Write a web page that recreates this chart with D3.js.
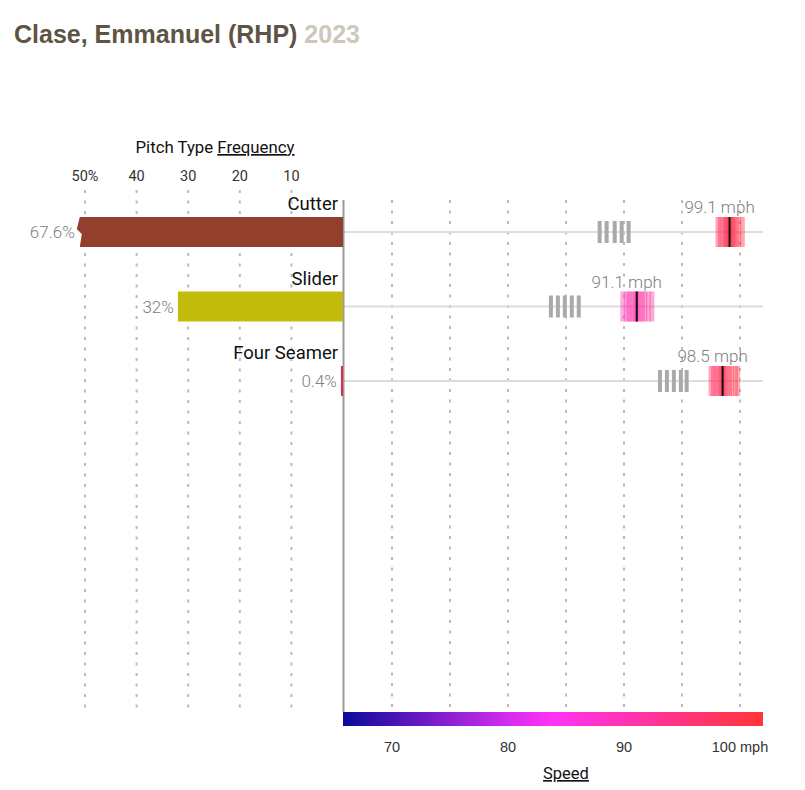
<!DOCTYPE html>
<html>
<head>
<meta charset="utf-8">
<script src="https://cdn.jsdelivr.net/npm/d3@7"></script>
<style>
  body { margin: 0; background: #fff; }
  svg { display: block; }
</style>
</head>
<body>
<svg id="chart"></svg>
<script>
// data
const pitchTypes = ["Cutter", "Slider", "Four Seamer"];
const frequency = [67.6, 32, 0.4];
const meanSpeed = [99.1, 91.1, 98.5];
const barColors = ["#933f2e", "#c2bd0c", "#d7304b"];
// the little gray marks left of each speed band (mph)
const grayMarks = [
  [87.9, 88.5, 89.2, 89.8, 90.4],
  [83.7, 84.3, 84.9, 85.5, 86.1],
  [93.1, 93.7, 94.3, 94.9, 95.4]
];
// pitch speeds that make up the pink band (mph)
const pitchSpeeds = [
  [98.1, 98.3, 98.5, 98.7, 98.8, 98.9, 99.0, 99.1, 99.2, 99.3, 99.4, 99.5, 99.7, 99.9, 100.2],
  [89.9, 90.2, 90.4, 90.6, 90.8, 91.0, 91.1, 91.2, 91.4, 91.6, 91.8, 92.1, 92.4],
  [97.5, 97.7, 97.9, 98.1, 98.3, 98.4, 98.5, 98.6, 98.7, 98.9, 99.1, 99.3, 99.6, 99.8]
];
const freqTicks = [50, 40, 30, 20, 10];
const speedTicks = [70, 80, 90, 100];
const speedGrid = [70, 75, 80, 85, 90, 95, 100];
const freqMax = 51.2; // bars longer than this get cut with a break

var width = 805, height = 790;
var svg = d3.select('#chart').attr('width', width).attr('height', height);

var x0 = 343; // the middle axis
var xFreq = d3.scaleLinear().domain([0, 50]).range([x0, 85]);
var xSpeed = d3.scaleLinear().domain([70, 100]).range([392, 740]);
var y = d3.scalePoint().domain(pitchTypes).range([232, 381]);
var barH = 30;

var color = d3.scaleLinear()
  .domain([65.8, 83, 102])
  .range(["#0a0a9a", "#ff33ff", "#ff3535"]);

// title
var title = svg.append('text')
  .attr('x', 14).attr('y', 43)
  .attr('font-family', 'Liberation Sans, Arial, sans-serif')
  .attr('font-size', 25)
  .attr('font-weight', 'bold');
title.append('tspan').attr('fill', '#5e5444').text('Clase, Emmanuel (RHP) ');
title.append('tspan').attr('fill', '#cec7bb').text('2023');

// left dotted grid
svg.append('g').selectAll('line')
  .data(freqTicks)
  .join('line')
  .attr('x1', d => xFreq(d)).attr('x2', d => xFreq(d))
  .attr('y1', 190).attr('y2', 708)
  .attr('stroke', '#bbb').attr('stroke-width', 2)
  .attr('stroke-dasharray', '3,7.5');

// right dotted grid
svg.append('g').selectAll('line')
  .data(speedGrid)
  .join('line')
  .attr('x1', d => xSpeed(d)).attr('x2', d => xSpeed(d))
  .attr('y1', 200).attr('y2', 708)
  .attr('stroke', '#bbb').attr('stroke-width', 2)
  .attr('stroke-dasharray', '3,7.5');

// frequency header + tick labels
var head = svg.append('text')
  .attr('x', 215).attr('y', 153)
  .attr('text-anchor', 'middle')
  .attr('font-family', 'Roboto, sans-serif')
  .attr('font-size', 16.8)
  .attr('fill', '#111');
head.append('tspan').text('Pitch Type ');
head.append('tspan').attr('text-decoration', 'underline').text('Frequency');

svg.append('g').selectAll('text')
  .data(freqTicks)
  .join('text')
  .attr('x', d => xFreq(d)).attr('y', 181)
  .attr('text-anchor', 'middle')
  .attr('font-family', 'Roboto, sans-serif')
  .attr('font-size', 14.5)
  .attr('fill', '#333')
  .text((d, i) => i == 0 ? d + '%' : d);

// row lines on speed side
svg.append('g').selectAll('line')
  .data(pitchTypes)
  .join('line')
  .attr('x1', x0).attr('x2', 763)
  .attr('y1', d => y(d)).attr('y2', d => y(d))
  .attr('stroke', '#ddd').attr('stroke-width', 2);

// middle axis line
svg.append('line')
  .attr('x1', x0 + 0.5).attr('x2', x0 + 0.5)
  .attr('y1', 200).attr('y2', 712)
  .attr('stroke', '#999').attr('stroke-width', 2);

// frequency bars (cut bars get a zigzag left edge)
var rows = pitchTypes.map((p, i) => ({ name: p, freq: frequency[i], mean: meanSpeed[i], color: barColors[i], marks: grayMarks[i], speeds: pitchSpeeds[i] }));

svg.append('g').selectAll('path')
  .data(rows)
  .join('path')
  .attr('fill', d => d.color)
  .attr('d', d => {
    var top = y(d.name) - barH / 2, bot = y(d.name) + barH / 2, cy = y(d.name);
    if (d.freq > freqMax) {
      var xe = xFreq(freqMax);
      return 'M' + x0 + ',' + top + 'L' + (xe + 1) + ',' + top + 'L' + (xe - 2) + ',' + (cy - 3) +
        'L' + (xe + 3) + ',' + (cy + 2) + 'L' + (xe + 1) + ',' + bot + 'L' + x0 + ',' + bot + 'Z';
    }
    var xe = xFreq(d.freq);
    return 'M' + x0 + ',' + top + 'L' + xe + ',' + top + 'L' + xe + ',' + bot + 'L' + x0 + ',' + bot + 'Z';
  });

// percent labels
svg.append('g').selectAll('text')
  .data(rows)
  .join('text')
  .attr('x', d => xFreq(Math.min(d.freq, freqMax)) - 4)
  .attr('y', d => y(d.name) + 6)
  .attr('text-anchor', 'end')
  .attr('font-family', 'Roboto, sans-serif')
  .attr('font-weight', 300)
  .attr('font-size', 17)
  .attr('fill', '#808080')
  .text(d => d.freq + '%');

// pitch type names
svg.append('g').selectAll('text')
  .data(rows)
  .join('text')
  .attr('x', 338)
  .attr('y', d => y(d.name) - 22)
  .attr('text-anchor', 'end')
  .attr('font-family', 'Roboto, sans-serif')
  .attr('font-size', 18.5)
  .attr('fill', '#111')
  .text(d => d.name);

// gray marks
rows.forEach(r => {
  svg.append('g').selectAll('rect')
    .data(r.marks)
    .join('rect')
    .attr('x', d => xSpeed(d) - 2)
    .attr('y', y(r.name) - 11)
    .attr('width', 4).attr('height', 22)
    .attr('fill', '#aaa');

  // pink speed band
  svg.append('g').selectAll('rect')
    .data(r.speeds)
    .join('rect')
    .attr('x', d => xSpeed(d) - 2.5)
    .attr('y', y(r.name) - barH / 2)
    .attr('width', 5).attr('height', barH)
    .attr('fill', d => color(d))
    .attr('opacity', 0.42);

  // mean line
  svg.append('line')
    .attr('x1', xSpeed(r.mean)).attr('x2', xSpeed(r.mean))
    .attr('y1', y(r.name) - barH / 2).attr('y2', y(r.name) + barH / 2)
    .attr('stroke', '#111').attr('stroke-width', 2);

  svg.append('text')
    .attr('x', xSpeed(r.mean) - 10)
    .attr('y', y(r.name) - 19)
    .attr('text-anchor', 'middle')
    .attr('font-family', 'Roboto, sans-serif')
    .attr('font-weight', 300)
    .attr('font-size', 17)
    .attr('fill', '#808080')
    .text(r.mean + ' mph');
});

// speed colour bar
var defs = svg.append('defs');
var grad = defs.append('linearGradient').attr('id', 'speedGrad');
var sMin = xSpeed.invert(x0), sMax = xSpeed.invert(763);
grad.selectAll('stop')
  .data(d3.range(0, 1.0001, 0.1))
  .join('stop')
  .attr('offset', d => d * 100 + '%')
  .attr('stop-color', d => color(sMin + d * (sMax - sMin)));

svg.append('rect')
  .attr('x', x0).attr('y', 712)
  .attr('width', 763 - x0).attr('height', 14)
  .attr('fill', 'url(#speedGrad)');

svg.append('g').selectAll('text')
  .data(speedTicks)
  .join('text')
  .attr('x', d => xSpeed(d)).attr('y', 752)
  .attr('text-anchor', 'middle')
  .attr('font-family', 'Liberation Sans, Arial, sans-serif')
  .attr('font-size', 14.5)
  .attr('fill', '#333')
  .text(d => d == 100 ? d + ' mph' : d);

svg.append('text')
  .attr('x', 566).attr('y', 779)
  .attr('text-anchor', 'middle')
  .attr('font-family', 'Roboto, sans-serif')
  .attr('font-size', 16.5)
  .attr('fill', '#111')
  .attr('text-decoration', 'underline')
  .text('Speed');
</script>
</body>
</html>
